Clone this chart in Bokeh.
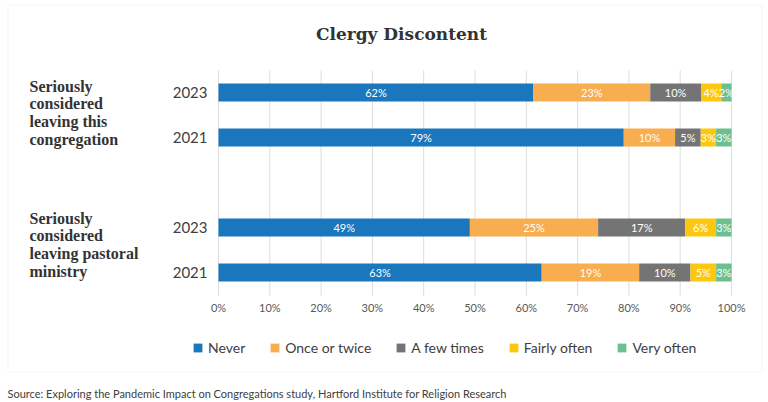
from bokeh.plotting import figure
from bokeh.models import Range1d, ColumnDataSource, BoxAnnotation
from bokeh.core.properties import value
from bokeh.embed import file_html
from bokeh.resources import INLINE

# ---------------- data ----------------
title_text = "Clergy Discontent"
group_labels = ["Seriously\nconsidered\nleaving this\ncongregation",
                "Seriously\nconsidered\nleaving pastoral\nministry"]
years = ["2023", "2021"]
series_names = ["Never", "Once or twice", "A few times", "Fairly often", "Very often"]
series_keys = ["never", "once", "few", "fairly", "very"]
series_colors = ["#1a76bd", "#f8ae4e", "#747474", "#fcc80f", "#6cc08f"]
# rows: congregation 2023, congregation 2021, ministry 2023, ministry 2021
never = [62, 79, 49, 63]
once_or_twice = [23, 10, 25, 19]
a_few_times = [10, 5, 17, 10]
fairly_often = [4, 3, 6, 5]
very_often = [2, 3, 3, 3]
x_ticks = [0, 10, 20, 30, 40, 50, 60, 70, 80, 90, 100]
x_tick_labels = ["0%", "10%", "20%", "30%", "40%", "50%", "60%", "70%", "80%", "90%", "100%"]
source_note = ("Source: Exploring the Pandemic Impact on Congregations study, "
               "Hartford Institute for Religion Research")

values = [never, once_or_twice, a_few_times, fairly_often, very_often]

# ---------------- layout helpers (reference-pixel -> data) ----------------
W, H = 768, 402
X0_REF, X100_REF = 218, 731          # 0% and 100% positions
PX_PER_PCT = (X100_REF - X0_REF) / 100.0
ROW0_REF, PX_PER_ROW = 92, 45.0      # centre of first bar, row pitch


def X(xr):
    return (xr - X0_REF) / PX_PER_PCT


def Y(yr):
    return (yr - ROW0_REF) / PX_PER_ROW


# row index for each bar: group * 3 + year index (one empty row between groups)
rows = []
row_year = []
for gi in range(len(group_labels)):
    for yi, yr in enumerate(years):
        rows.append(gi * 3 + yi)
        row_year.append(yr)

# 100% stacked: normalise each row
totals = [sum(v[i] for v in values) for i in range(len(rows))]
data = {"row": rows}
for key, vals in zip(series_keys, values):
    data[key] = [100.0 * vals[i] / totals[i] for i in range(len(rows))]
src = ColumnDataSource(data)

lab_x, lab_y, lab_t = [], [], []
for i, r in enumerate(rows):
    left = 0.0
    for key, vals in zip(series_keys, values):
        w = data[key][i]
        lab_x.append(left + w / 2.0)
        lab_y.append(r)
        lab_t.append(f"{vals[i]}%")
        left += w

p = figure(width=W, height=H,
           x_range=Range1d(X(0), X(W)),
           y_range=Range1d(Y(H), Y(0)),
           x_axis_type=None, y_axis_type=None,
           output_backend="svg", toolbar_location=None,
           min_border=0, outline_line_color=None,
           background_fill_color="white", border_fill_color="white")

# outer box
p.add_layout(BoxAnnotation(left=X(7.5), right=X(761.5), top=Y(4.5), bottom=Y(371.5),
                           fill_alpha=0, line_color="#d9d9d9", line_width=1, level="underlay"))

# vertical grid lines
p.segment(x0=x_ticks, x1=x_ticks, y0=[Y(70)] * len(x_ticks), y1=[Y(295)] * len(x_ticks),
          line_color="#dcdcdc", line_width=1)

# stacked bars
p.hbar_stack(series_keys, y="row", height=18 / PX_PER_ROW, source=src,
             fill_color=series_colors, line_color=None, legend_label=series_names)

# segment labels
p.text(x=lab_x, y=lab_y, text=lab_t, text_align="center", text_baseline="middle",
       text_color="white", text_font=value("Lato"), text_font_size="11px")

# tick labels
p.text(x=x_ticks, y=[Y(306.7)] * len(x_ticks), text=x_tick_labels, text_align="center",
       text_baseline="middle", text_color="#595959", text_font=value("Lato"),
       text_font_size="11px")

# year labels
p.text(x=[X(207)] * len(rows), y=rows, text=row_year, text_align="right",
       text_baseline="middle", text_color="#404040", text_font=value("Lato"),
       text_font_size="15px")

# group labels
p.text(x=[X(29)] * len(group_labels), y=[Y(77), Y(209)], text=group_labels,
       text_align="left", text_baseline="top", text_color="#333333",
       text_font=value("Liberation Serif"), text_font_style="bold",
       text_font_size="16px", text_line_height=1.04)

# title
p.text(x=[X(401)], y=[Y(33)], text=[title_text], text_align="center",
       text_baseline="alphabetic", text_color="#333333", text_font=value("DejaVu Serif"),
       text_font_style="bold", text_font_size="17px")

# source note
p.text(x=[X(7)], y=[Y(392.5)], text=[source_note], text_align="left",
       text_baseline="alphabetic", text_color="#404040", text_font=value("Lato"),
       text_font_size="11px")

# legend
lg = p.legend[0]
lg.orientation = "horizontal"
lg.location = (192, 46)
lg.padding = 0
lg.margin = 0
lg.spacing = 24
lg.label_standoff = 5
lg.glyph_width = 11
lg.glyph_height = 11
lg.label_text_font = "Lato"
lg.label_text_font_size = "14px"
lg.label_text_color = "#404040"
lg.border_line_color = None
lg.background_fill_alpha = 0

open("out.html", "w").write(file_html(p, INLINE))
